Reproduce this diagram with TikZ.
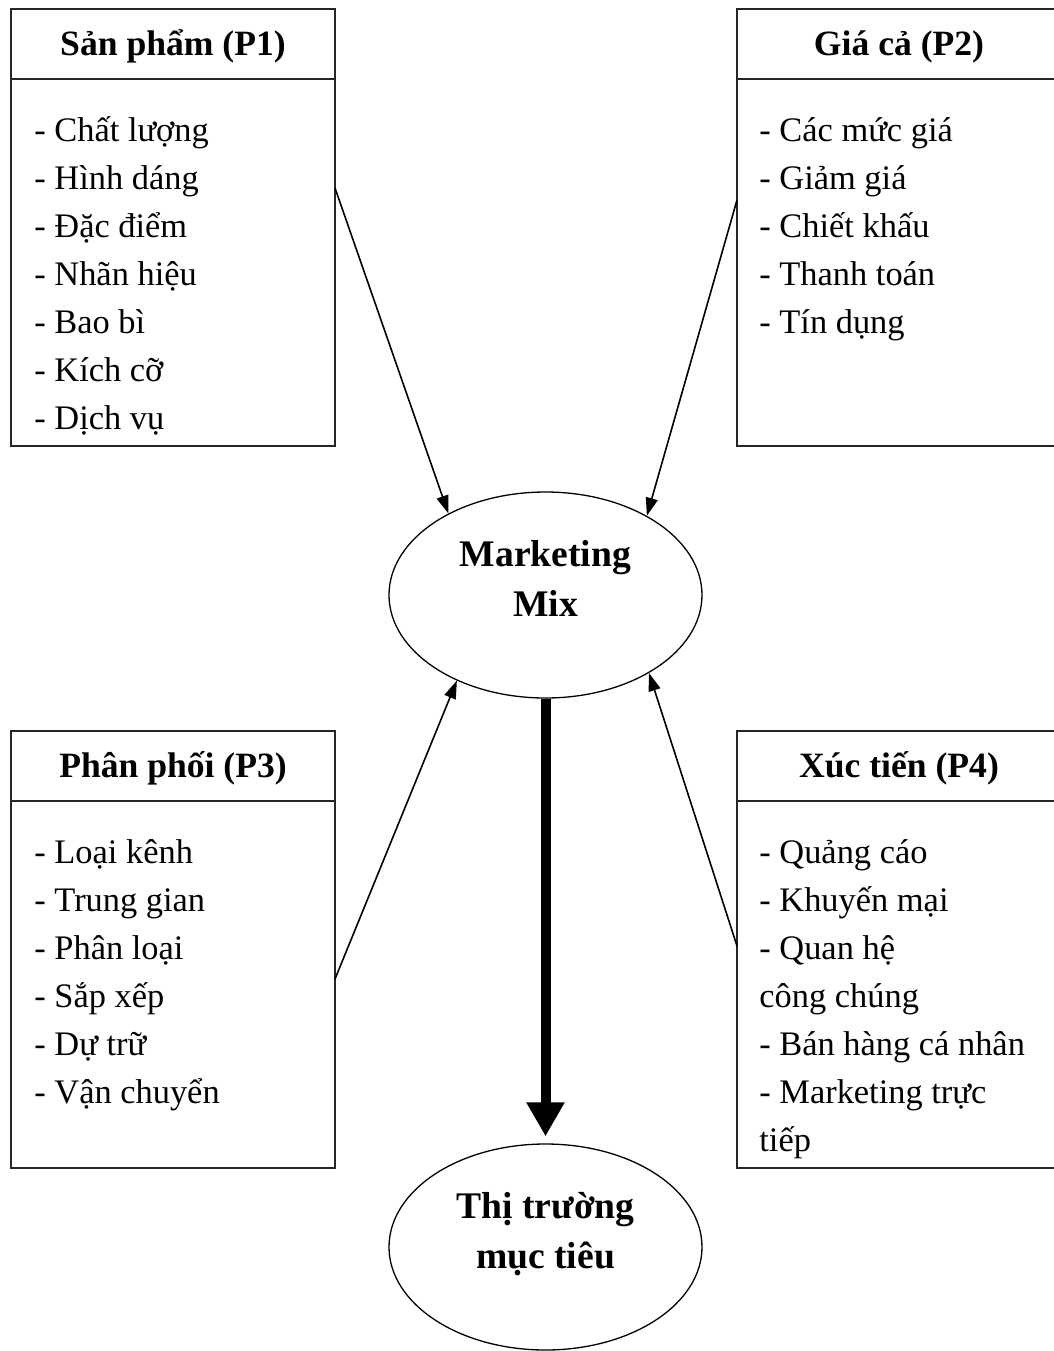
\documentclass[tikz,border=0pt]{standalone}
\usepackage{fontspec}
\setmainfont{Liberation Serif}
\usetikzlibrary{arrows.meta,positioning,shapes.geometric}
\tikzset{
  head/.style={draw=black!85,line width=1pt,minimum width=162pt,minimum height=35pt,
    inner sep=0pt,outer sep=0pt,anchor=north west,text height=15pt,text depth=4pt,
    font=\fontsize{17.8}{22}\selectfont\bfseries},
  body/.style={draw=black!85,line width=1pt,minimum width=162pt,minimum height=183.5pt,
    inner sep=0pt,outer sep=0pt},
  items/.style={align=left,inner sep=0pt,anchor=north west,
    font=\fontsize{17.2}{24}\selectfont},
  oval/.style={draw,ellipse,line width=0.65pt,minimum width=156.5pt,minimum height=103pt,
    inner sep=0pt,align=center,text depth=17pt,
    font=\fontsize{18.8}{25}\selectfont\bfseries},
  arrow/.style={-{Triangle[length=9pt,width=6pt]},line width=0.8pt},
  bigarrow/.style={-{Triangle[length=17pt,width=18pt]},line width=5pt}
}
\begin{document}
\begin{tikzpicture}[x=0.5pt,y=-0.5pt]
  \useasboundingbox (0,0) rectangle (1054,1351);
  \node[head] (p1head) at (11,9) {Sản phẩm (P1)};
  \node[body,below=0pt of p1head] (p1body) {};
  \node[items,below right=14.2pt and 11.5pt of p1body.north west] (p1list) {\strut - Chất lượng\\
    - Hình dáng\\- Đặc điểm\\- Nhãn hiệu\\- Bao bì\\- Kích cỡ\\- Dịch vụ};
  \node[head] (p2head) at (737,9) {Giá cả (P2)};
  \node[body,below=0pt of p2head] (p2body) {};
  \node[items,below right=14.2pt and 11pt of p2body.north west] (p2list) {\strut - Các mức giá\\
    - Giảm giá\\- Chiết khấu\\- Thanh toán\\- Tín dụng};
  \node[head] (p3head) at (11,731) {Phân phối (P3)};
  \node[body,below=0pt of p3head] (p3body) {};
  \node[items,below right=14.2pt and 11.5pt of p3body.north west] (p3list) {\strut - Loại kênh\\
    - Trung gian\\- Phân loại\\- Sắp xếp\\- Dự trữ\\- Vận chuyển};
  \node[head] (p4head) at (737,731) {Xúc tiến (P4)};
  \node[body,below=0pt of p4head] (p4body) {};
  \node[items,below right=14.2pt and 11pt of p4body.north west] (p4list) {\strut - Quảng cáo\\
    - Khuyến mại\\- Quan hệ\\công chúng\\- Bán hàng cá nhân\\- Marketing trực\\tiếp};
  \node[oval] (mix) at (545.5,595) {Marketing\\Mix};
  \node[oval] (target) at (545.5,1247) {Thị trường\\mục tiêu};
  \draw[arrow] ([yshift=-54.5pt]p1body.north east) -- (mix.140);
  \draw[arrow] ([yshift=-60.5pt]p2body.north west) -- (mix.38);
  \draw[arrow] ([yshift=-89pt]p3body.north east) -- (mix.224);
  \draw[arrow] ([yshift=-72.5pt]p4body.north west) -- (mix.323);
  \draw[bigarrow,shorten >=3.5pt] (mix) -- (target);
\end{tikzpicture}
\end{document}
